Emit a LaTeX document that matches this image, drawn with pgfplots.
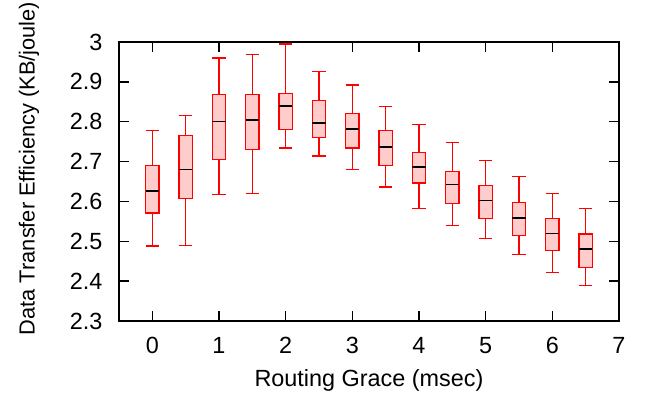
\documentclass[border=0pt]{standalone}
\usepackage{fontspec}
\setmainfont{Liberation Sans}
\usepackage{pgfplots}
\pgfplotsset{compat=1.18}
\usepgfplotslibrary{statistics}
\begin{document}
\fontsize{11.7}{14}\selectfont
\begin{tikzpicture}
\begin{axis}[
  scale only axis,
  width=250pt, height=139.5pt,
  xmin=-0.5, xmax=7, ymin=2.3, ymax=3,
  xtick={0,1,2,3,4,5,6,7},
  ytick={2.3,2.4,2.5,2.6,2.7,2.8,2.9,3},
  tick align=inside,
  major tick length=5pt,
  tick style={black, line width=0.7pt},
  axis line style={black, line width=1pt},
  /pgf/number format/assume math mode=true,
  yticklabel style={xshift=-4.2pt},
  xticklabel style={yshift=-4.1pt},
  xlabel={Routing Grace (msec)},
  ylabel={Data Transfer Efficiency (KB/joule)},
  every axis x label/.style={at={(axis description cs:0.5,0)}, anchor=center, yshift=-29.5pt},
  every axis y label/.style={at={(axis description cs:0,0.5)}, anchor=center, inner sep=0pt, xshift=-45pt, yshift=6.5pt, rotate=90, font=\fontsize{10.9}{13}\selectfont},
  boxplot/draw direction=y,
  boxplot/box extend=0.2,
  boxplot/whisker extend=0.2,
  boxplot/every median/.style={draw=black, line width=0.8pt},
  boxplot/every whisker/.style={draw=red, line width=0.6pt},
  boxplot/every box/.style={draw=red, fill=red!20, line width=0.6pt},
  every axis plot/.append style={draw=red, fill=red!20, line width=0.6pt, mark=none},
]
\addplot[boxplot prepared={draw position=0,   lower whisker=2.488, lower quartile=2.571, median=2.626, upper quartile=2.691, upper whisker=2.778}] coordinates {};
\addplot[boxplot prepared={draw position=0.5, lower whisker=2.490, lower quartile=2.607, median=2.680, upper quartile=2.766, upper whisker=2.815}] coordinates {};
\addplot[boxplot prepared={draw position=1,   lower whisker=2.617, lower quartile=2.706, median=2.801, upper quartile=2.868, upper whisker=2.960}] coordinates {};
\addplot[boxplot prepared={draw position=1.5, lower whisker=2.620, lower quartile=2.731, median=2.804, upper quartile=2.868, upper whisker=2.968}] coordinates {};
\addplot[boxplot prepared={draw position=2,   lower whisker=2.734, lower quartile=2.780, median=2.840, upper quartile=2.871, upper whisker=2.995}] coordinates {};
\addplot[boxplot prepared={draw position=2.5, lower whisker=2.714, lower quartile=2.760, median=2.796, upper quartile=2.854, upper whisker=2.926}] coordinates {};
\addplot[boxplot prepared={draw position=3,   lower whisker=2.681, lower quartile=2.734, median=2.782, upper quartile=2.820, upper whisker=2.892}] coordinates {};
\addplot[boxplot prepared={draw position=3.5, lower whisker=2.636, lower quartile=2.691, median=2.737, upper quartile=2.778, upper whisker=2.839}] coordinates {};
\addplot[boxplot prepared={draw position=4,   lower whisker=2.583, lower quartile=2.646, median=2.687, upper quartile=2.722, upper whisker=2.793}] coordinates {};
\addplot[boxplot prepared={draw position=4.5, lower whisker=2.540, lower quartile=2.595, median=2.642, upper quartile=2.676, upper whisker=2.747}] coordinates {};
\addplot[boxplot prepared={draw position=5,   lower whisker=2.506, lower quartile=2.558, median=2.602, upper quartile=2.639, upper whisker=2.703}] coordinates {};
\addplot[boxplot prepared={draw position=5.5, lower whisker=2.467, lower quartile=2.514, median=2.559, upper quartile=2.597, upper whisker=2.663}] coordinates {};
\addplot[boxplot prepared={draw position=6,   lower whisker=2.421, lower quartile=2.476, median=2.520, upper quartile=2.557, upper whisker=2.620}] coordinates {};
\addplot[boxplot prepared={draw position=6.5, lower whisker=2.390, lower quartile=2.435, median=2.481, upper quartile=2.518, upper whisker=2.582}] coordinates {};
\end{axis}
\path (current axis.south west) ++(-59.5pt,-37.5pt) coordinate (bbA);
\path (current axis.north east) ++(16.5pt,21pt) coordinate (bbB);
\path (bbA) rectangle (bbB);
\end{tikzpicture}
\end{document}
